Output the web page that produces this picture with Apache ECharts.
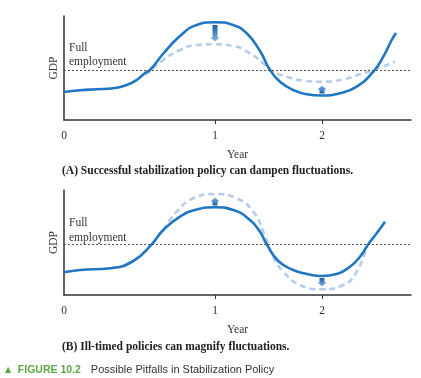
<!DOCTYPE html>
<html>
<head>
<meta charset="utf-8">
<script src="https://cdn.jsdelivr.net/npm/echarts@6/dist/echarts.min.js"></script>
<style>
html,body{margin:0;padding:0;background:#fff;}
#c{width:421px;height:378px;}
</style>
</head>
<body>
<div id="c"></div>
<script>
// x in chart units along the year axis; y = GDP in chart units
var xTickValues = [0, 151, 258];
var xTickLabels = ['0', '1', '2'];
var fullEmployment = [50, 50.7];

var solidA = [[0,28],[16,29.7],[32.7,30.7],[49.3,31.7],[62.7,35],[72.7,40],[81,47],[86,50],[99,66],[116,84],[132.7,95],[151,97.8],[169,95],[182.7,86.7],[196,69],[206,50],[216,38.3],[229.3,30],[242.7,25.7],[257.7,24.5],[276,26.7],[292.7,33.3],[309.3,48.3],[319.3,63.3],[327.7,80],[332,87]];
var dashedA = [[81,45],[99.3,60],[116,70],[132.7,75],[151,75.7],[169.3,74],[186,66.7],[199.3,56.7],[206,50],[222.7,43.3],[239.3,39.3],[257.7,38.3],[279.3,40.7],[296,45.7],[309.3,50],[331,58.3]];
var arrowsA = [[151,95,78.5],[258,26.5,34.5]];

var solidB = [[0,22.7],[16,25],[46,26.7],[69.3,34],[87.7,50.7],[99.3,65],[116,78.3],[132.7,85.5],[151,87.7],[169.3,85],[186,75],[196,63.3],[202.7,50.7],[214.3,34],[229.3,25],[242.7,21],[257.7,19],[272.7,21],[286,28.3],[296,38.3],[304.3,50.7],[312.7,61.7],[321,73.3]];
var dashedB = [[99.3,65],[112.7,83.3],[129.3,96.7],[151,101],[172.7,96.7],[189.3,83.3],[199.3,63.3],[209.3,38.3],[219.3,23.3],[236,10],[257.7,5.7],[279.3,10],[292.7,23.3],[302.7,48.3]];
var arrowsB = [[151,89.5,97.5],[258,17,8.5]];

var captionA = '(A) Successful stabilization policy can dampen fluctuations.';
var captionB = '(B) Ill-timed policies can magnify fluctuations.';
var figLabel = 'FIGURE 10.2';
var figTitle = 'Possible Pitfalls in Stabilization Policy';

var SERIF = '"Liberation Serif","DejaVu Serif",serif';
var SANS = '"Liberation Sans",Arial,sans-serif';
var BLUE = '#1f76c2';
var LIGHT = '#b7cbea';
var AXIS = '#333';

function xAxisDef(gi){
  return {
    type:'value', gridIndex:gi, min:0, max:347,
    axisLine:{show:true, onZero:false, lineStyle:{color:AXIS, width:1.5}},
    axisTick:{show:true, customValues:xTickValues.slice(1), length:4, lineStyle:{color:AXIS}},
    axisLabel:{show:true, customValues:xTickValues, margin:10, color:AXIS, fontFamily:SERIF, fontSize:11.5,
      formatter:function(v){ var i = xTickValues.indexOf(v); return i>=0 ? xTickLabels[i] : ''; }},
    splitLine:{show:false},
    name:'Year', nameLocation:'middle', nameGap:29,
    nameTextStyle:{color:AXIS, fontFamily:SERIF, fontSize:11.5}
  };
}
function yAxisDef(gi, max){
  return {
    type:'value', gridIndex:gi, min:0, max:max,
    axisLine:{show:true, onZero:false, lineStyle:{color:AXIS, width:1.5}},
    axisTick:{show:false}, axisLabel:{show:false}, splitLine:{show:false},
    name:'GDP', nameLocation:'middle', nameRotate:90, nameGap:4,
    nameTextStyle:{color:AXIS, fontFamily:SERIF, fontSize:11.5}
  };
}
function arrowRender(params, api){
  var x = api.value(0), y0 = api.value(1), y1 = api.value(2);
  var p0 = api.coord([x, y0]), p1 = api.coord([x, y1]);
  var cx = p0[0], ta = p0[1], tb = p1[1];
  var dir = tb > ta ? 1 : -1;
  var hl = 4, bw = 2.5, hw = 4.5;
  var hb = tb - dir*hl;
  var pts = [[cx-bw,ta],[cx-bw,hb],[cx-hw,hb],[cx,tb],[cx+hw,hb],[cx+bw,hb],[cx+bw,ta]];
  var stops = [{offset:0,color:'#1a5ea6'},{offset:1,color:'#86b6e2'}];
  var grad = dir>0 ? new echarts.graphic.LinearGradient(0,0,0,1,stops)
                   : new echarts.graphic.LinearGradient(0,1,0,0,stops);
  return {type:'polygon', shape:{points:pts}, style:{fill:grad}};
}
function lineSeries(data, gi, dashed, mark){
  var s = {
    type:'line', xAxisIndex:gi, yAxisIndex:gi, data:data, smooth:0.5,
    showSymbol:false, symbol:'none', silent:true, z: dashed?2:3,
    lineStyle: dashed ? {color:LIGHT, width:2.6, type:[6,4]} : {color:BLUE, width:2.6}
  };
  if (mark !== undefined) {
    s.markLine = {silent:true, symbol:'none', label:{show:false},
      lineStyle:{color:'#555', width:1, type:[2,2]},
      data:[{yAxis:mark}]};
  }
  return s;
}

var chart = echarts.init(document.getElementById('c'), null, {renderer:'canvas'});
chart.setOption({
  animation:false,
  backgroundColor:'#fff',
  grid:[
    {left:64, top:16, width:347, height:104},
    {left:64, top:190, width:347, height:105}
  ],
  xAxis:[xAxisDef(0), xAxisDef(1)],
  yAxis:[yAxisDef(0,104), yAxisDef(1,105)],
  series:[
    lineSeries(dashedA, 0, true, fullEmployment[0]),
    lineSeries(solidA, 0, false),
    {type:'custom', xAxisIndex:0, yAxisIndex:0, data:arrowsA, renderItem:arrowRender, z:5, silent:true},
    lineSeries(dashedB, 1, true, fullEmployment[1]),
    lineSeries(solidB, 1, false),
    {type:'custom', xAxisIndex:1, yAxisIndex:1, data:arrowsB, renderItem:arrowRender, z:5, silent:true}
  ],
  graphic:[
    {type:'text', left:69, top:41, style:{text:'Full\nemployment', fill:AXIS, font:'11.5px '+SERIF, lineHeight:14}},
    {type:'text', left:69, top:215, style:{text:'Full\nemployment', fill:AXIS, font:'11.5px '+SERIF, lineHeight:15}},
    {type:'text', left:62, top:165, style:{text:captionA, fill:'#222', font:'bold 11.5px '+SERIF}},
    {type:'text', left:62, top:341, style:{text:captionB, fill:'#222', font:'bold 11.5px '+SERIF}},
    {type:'text', left:5, top:364, style:{
      text:'{t|▲}  {f|'+figLabel+'}   {r|'+figTitle+'}',
      rich:{
        t:{fill:'#5aa845', fontSize:8, fontFamily:'"DejaVu Sans",sans-serif'},
        f:{fill:'#5aa845', fontSize:10.5, fontWeight:'bold', fontFamily:SANS},
        r:{fill:'#333', fontSize:11, fontFamily:SANS}
      }}}
  ]
});
</script>
</body>
</html>
